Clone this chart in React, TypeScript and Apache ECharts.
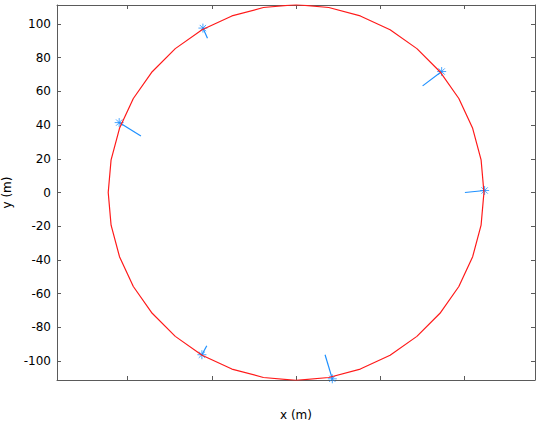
import React, { useEffect, useRef } from "react";
import * as echarts from "echarts";

const circleX = [111.5, 109.8, 104.8, 96.6, 85.4, 71.7, 55.8, 38.1, 19.4, 0, -19.4, -38.1, -55.8, -71.7, -85.4, -96.6, -104.8, -109.8, -111.5, -109.8, -104.8, -96.6, -85.4, -71.7, -55.8, -38.1, -19.4, 0, 19.4, 38.1, 55.8, 71.7, 85.4, 96.6, 104.8, 109.8, 111.5];
const circleY = [0, 19.4, 38.1, 55.8, 71.7, 85.4, 96.6, 104.8, 109.8, 111.5, 109.8, 104.8, 96.6, 85.4, 71.7, 55.8, 38.1, 19.4, 0, -19.4, -38.1, -55.8, -71.7, -85.4, -96.6, -104.8, -109.8, -111.5, -109.8, -104.8, -96.6, -85.4, -71.7, -55.8, -38.1, -19.4, 0];

const starX = [-55.3, 86.4, 111.9, 21.5, -55.9, -105.0];
const starY = [97.6, 71.8, 1.2, -110.6, -96.3, 41.5];
const vecEndX = [-52.6, 75.1, 100.2, 17.2, -53.0, -92.1];
const vecEndY = [91.6, 63.3, 0.0, -96.3, -91.0, 33.6];

const yTicks = [-100, -80, -60, -40, -20, 0, 20, 40, 60, 80, 100];
const xTicks = [-100, -50, 0, 50, 100];

const X_MIN = -141.9;
const X_MAX = 141.8;
const Y_MIN = -111.3;
const Y_MAX = 111.3;

export default function App() {
  const ref = useRef<HTMLDivElement>(null);
  useEffect(() => {
    if (!ref.current) return;
    const chart = echarts.init(ref.current, undefined, { renderer: "svg" });
    const axisColor = "#5a5a5a";
    const font = "DejaVu Sans";
    const baseX = {
      type: "value",
      min: X_MIN,
      max: X_MAX,
      splitLine: { show: false },
      axisLine: { show: true, onZero: false, lineStyle: { color: axisColor, width: 1 } },
      axisTick: { show: true, inside: true, length: 4, customValues: xTicks, lineStyle: { color: axisColor } },
      axisLabel: { show: false, customValues: xTicks },
    };
    const baseY = {
      type: "value",
      min: Y_MIN,
      max: Y_MAX,
      splitLine: { show: false },
      axisLine: { show: true, onZero: false, lineStyle: { color: axisColor, width: 1 } },
      axisTick: { show: true, inside: true, length: 4, customValues: yTicks, lineStyle: { color: axisColor } },
    };
    chart.setOption({
      animation: false,
      backgroundColor: "#ffffff",
      grid: { left: 57, right: 3, top: 5, bottom: 46, containLabel: false, outerBoundsMode: "none" },
      xAxis: [
        {
          ...baseX,
          position: "bottom",
          name: "x (m)",
          nameLocation: "middle",
          nameGap: 29,
          nameTextStyle: { fontFamily: font, fontSize: 12, color: "#000" },
        },
        { ...baseX, position: "top" },
      ],
      yAxis: [
        {
          ...baseY,
          position: "left",
          name: "y (m)",
          nameLocation: "middle",
          nameGap: 40,
          nameRotate: 90,
          nameTextStyle: { fontFamily: font, fontSize: 12, color: "#000" },
          axisLabel: { show: true, customValues: yTicks, margin: 6, fontFamily: font, fontSize: 12, color: "#000" },
        },
        { ...baseY, position: "right", axisLabel: { show: false, customValues: yTicks } },
      ],
      series: [
        {
          type: "line",
          data: circleX.map((x, i) => [x, circleY[i]]),
          showSymbol: false,
          symbol: "none",
          lineStyle: { color: "#ff1a1a", width: 1.2 },
          xAxisIndex: 0,
          yAxisIndex: 0,
        },
        {
          type: "lines",
          coordinateSystem: "cartesian2d",
          xAxisIndex: 0,
          yAxisIndex: 0,
          data: starX.map((x, i) => ({ coords: [[x, starY[i]], [vecEndX[i], vecEndY[i]]] })),
          lineStyle: { color: "#1e90ff", width: 1.2, opacity: 1 },
          symbol: "none",
        },
        {
          type: "scatter",
          xAxisIndex: 0,
          yAxisIndex: 0,
          data: starX.map((x, i) => [x, starY[i]]),
          symbol: "path://M5 0L5 10M0 5L10 5M1.5 1.5L8.5 8.5M1.5 8.5L8.5 1.5",
          symbolSize: 9,
          itemStyle: { color: "rgba(0,0,0,0)", borderColor: "#1e90ff", borderWidth: 1 },
        },
      ],
    });
    return () => chart.dispose();
  }, []);
  return <div ref={ref} style={{ width: 538, height: 426, position: "absolute", left: 0, top: 0 }} />;
}
